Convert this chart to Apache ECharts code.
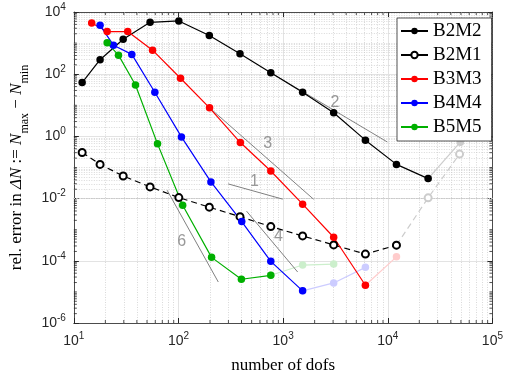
<!DOCTYPE html>
<html lang="en">
<head>
<meta charset="UTF-8">
<title>rel. error vs number of dofs</title>
<script src="https://cdn.jsdelivr.net/npm/echarts@6.0.0/dist/echarts.min.js"></script>
<style>
  html, body { margin: 0; padding: 0; background: #fff; }
  #main { width: 506px; height: 379px; }
</style>
</head>
<body>
<div id="main"></div>
<script type="text/javascript">
// data
var b2m2X = [12, 17.8, 29.6, 53.5, 100.7, 197, 387, 762, 1535, 3040, 6110, 12100, 24300];
var b2m2Y = [54, 292, 1333, 4650, 5150, 1750, 455, 112, 26.4, 5.75, 0.757, 0.126, 0.044];
var b2m2Tail = [[24300, 0.044], [49300, 0.65]];

var b2m1X = [12, 17.8, 29.6, 53.5, 100.7, 197, 387, 762, 1535, 3040, 6110, 12100];
var b2m1Y = [0.303, 0.126, 0.0535, 0.0238, 0.0108, 0.0053, 0.00262, 0.00126, 0.00063, 0.000325, 0.000164, 0.000318];
var b2m1Tail = [[12100, 0.000318], [24300, 0.0106], [48500, 0.27]];

var b3m3X = [14.8, 20.8, 32.7, 56.5, 104.5, 198, 390, 762, 1535, 3040, 6110];
var b3m3Y = [4460, 2350, 2350, 593, 74, 8.3, 0.634, 0.0773, 0.00662, 0.000571, 1.64e-5];
var b3m3Tail = [[6110, 1.64e-5], [12100, 1.34e-4]];

var b4m4X = [17.8, 23.9, 35.8, 59.4, 106.6, 204, 402, 762, 1535];
var b4m4Y = [3730, 857, 433, 26.4, 0.964, 0.0344, 0.00182, 9.6e-5, 1.08e-5];
var b4m4Tail = [[1535, 1.08e-5], [3040, 1.94e-5], [6110, 6.15e-5]];

var b5m5X = [20.8, 26.7, 38.8, 63, 109.6, 207, 399, 762];
var b5m5Y = [1023, 410, 45, 0.575, 0.00615, 1.29e-4, 2.55e-5, 3.42e-5];
var b5m5Tail = [[762, 3.42e-5], [1535, 7.3e-5], [3040, 7.85e-5]];

// reference slopes
var slope1 = [[298, 0.0297], [990, 0.0096]];
var slope2 = [[762, 112], [9900, 0.66]];
var slope3 = [[198, 8.3], [1955, 0.0095]];
var slope4 = [[447, 0.00395], [1377, 4.35e-5]];
var slope6 = [[77.8, 0.0186], [240, 2.08e-5]];
var slopeLabels = [[533, 0.0344, '1'], [3130, 12.6, '2'], [710, 0.575, '3'], [900, 6.0e-4, '4'], [107, 4.2e-4, '6']];

var xMin = 10, xMax = 100000, yMin = 1e-6, yMax = 1e4;

function zip(xs, ys) {
  var out = [];
  for (var i = 0; i < xs.length; i++) out.push([xs[i], ys[i]]);
  return out;
}

// minor grid (2..9 per decade, plus the odd decades on y)
var minorX = [], minorY = [], minorTicks = [];
for (var k = 1; k <= 4; k++) {
  for (var m = 2; m <= 9; m++) {
    minorX.push({ xAxis: m * Math.pow(10, k) });
    minorTicks.push([m * Math.pow(10, k), yMin, 0]);
  }
}
for (var k = -6; k <= 3; k++) {
  for (var m = 1; m <= 9; m++) {
    if (m === 1 && k % 2 === 0) continue;
    minorY.push({ yAxis: m * Math.pow(10, k) });
    minorTicks.push([xMin, m * Math.pow(10, k), 1]);
  }
}

var axisCol = '#262626';
var tickFont = 'Liberation Sans';
var rich = {
  b: { fontSize: 14, fontFamily: tickFont, color: axisCol, lineHeight: 20 },
  s: { fontSize: 10, fontFamily: tickFont, color: axisCol, lineHeight: 10, verticalAlign: 'top' }
};
function powLabel(v) {
  var e = Math.round(Math.log10(v));
  return '{b|10}{s|' + e + '}';
}

var dom = document.getElementById('main');
var myChart = echarts.init(dom);

function mainLine(name, color, data, dashed, empty) {
  return {
    name: name,
    type: 'line',
    data: data,
    symbol: empty ? 'emptyCircle' : 'circle',
    symbolSize: empty ? 7 : 7.5,
    showSymbol: true,
    z: 3,
    lineStyle: { color: color, width: 1.2, type: dashed ? [6, 4] : 'solid' },
    itemStyle: { color: color, borderWidth: empty ? 1.3 : 0 },
    emphasis: { disabled: true },
    animation: false
  };
}
function fadedLine(color, data, dashed, empty) {
  return {
    type: 'line',
    data: data,
    symbol: empty ? 'emptyCircle' : 'circle',
    symbolSize: empty ? 7 : 7.5,
    z: 2,
    lineStyle: { color: color, width: 1.2, type: dashed ? [6, 4] : 'solid' },
    itemStyle: { color: color, borderWidth: empty ? 1.3 : 0 },
    silent: true,
    animation: false
  };
}
function slopeLine(data) {
  return {
    type: 'line',
    data: data,
    symbol: 'none',
    z: 2,
    lineStyle: { color: '#808080', width: 1 },
    silent: true,
    animation: false
  };
}

var option = {
  animation: false,
  grid: { left: 62, right: 13, top: 12, bottom: 54 },
  legend: {
    orient: 'vertical',
    left: 397,
    top: 18,
    z: 20,
    padding: [3, 10, 4, 3],
    itemWidth: 27,
    itemHeight: 8,
    itemGap: 4,
    itemTextGap: 4,
    backgroundColor: '#fff',
    borderColor: axisCol,
    borderWidth: 0.8,
    borderRadius: 0,
    selectedMode: false,
    textStyle: { fontFamily: 'Liberation Serif', fontSize: 19, color: '#000', lineHeight: 20 },
    data: ['B2M2', { name: 'B2M1', lineStyle: { type: 'solid' } }, 'B3M3', 'B4M4', 'B5M5']
  },
  xAxis: [{
    type: 'log',
    logBase: 10,
    min: xMin,
    max: xMax,
    interval: 1,
    name: 'number of dofs',
    nameLocation: 'middle',
    nameGap: 34,
    nameTextStyle: { fontFamily: 'Liberation Serif', fontSize: 17, color: '#000' },
    axisLine: { show: true, lineStyle: { color: axisCol, width: 0.8 } },
    axisTick: { show: true, inside: true, length: 5, lineStyle: { color: axisCol } },
    axisLabel: { formatter: powLabel, rich: rich, margin: 8, interval: 0 },
    splitLine: { show: true, lineStyle: { color: '#e3e3e3', width: 1 } }
  }, {
    type: 'log',
    logBase: 10,
    min: xMin,
    max: xMax,
    interval: 1,
    position: 'top',
    axisLine: { show: true, onZero: false, lineStyle: { color: axisCol, width: 0.8 } },
    axisTick: { show: true, inside: true, length: 5, lineStyle: { color: axisCol } },
    axisLabel: { show: false },
    splitLine: { show: false }
  }],
  yAxis: [{
    type: 'log',
    logBase: 10,
    min: yMin,
    max: yMax,
    interval: 2,
    name: '{n|rel. error in }{i|\u0394N}{n| := }{i|N}{sb|max}{n| \u2212 }{i|N}{sb|min}',
    nameLocation: 'middle',
    nameGap: 38,
    nameTextStyle: {
      rich: {
        n: { fontFamily: 'Liberation Serif', fontSize: 17, color: '#000', lineHeight: 22 },
        i: { fontFamily: 'Liberation Serif', fontSize: 17, fontStyle: 'italic', color: '#000', lineHeight: 22 },
        sb: { fontFamily: 'Liberation Serif', fontSize: 12, color: '#000', lineHeight: 12, verticalAlign: 'bottom', padding: [0, 0, -3, 0] }
      }
    },
    axisLine: { show: true, lineStyle: { color: axisCol, width: 0.8 } },
    axisTick: { show: true, inside: true, length: 5, lineStyle: { color: axisCol } },
    axisLabel: { formatter: powLabel, rich: rich, margin: 8, interval: 0 },
    splitLine: { show: true, lineStyle: { color: '#e3e3e3', width: 1 } }
  }, {
    type: 'log',
    logBase: 10,
    min: yMin,
    max: yMax,
    interval: 2,
    position: 'right',
    axisLine: { show: true, onZero: false, lineStyle: { color: axisCol, width: 0.8 } },
    axisTick: { show: true, inside: true, length: 5, lineStyle: { color: axisCol } },
    axisLabel: { show: false },
    splitLine: { show: false }
  }],
  series: [
    {
      // minor grid lines drawn through the axes
      type: 'line',
      data: [],
      silent: true,
      z: 1,
      markLine: {
        silent: true,
        z: 1,
        symbol: 'none',
        label: { show: false },
        animation: false,
        lineStyle: { color: '#c8c8c8', width: 0.7, type: [1, 1.5] },
        data: minorX.concat(minorY)
      }
    },
    {
      // minor ticks on all four sides of the box
      type: 'custom',
      data: minorTicks,
      silent: true,
      clip: false,
      z: 6,
      renderItem: function (params, api) {
        var st = { stroke: axisCol, lineWidth: 0.8 };
        if (api.value(2) === 0) {
          var b = api.coord([api.value(0), yMin]);
          var t = api.coord([api.value(0), yMax]);
          return { type: 'group', children: [
            { type: 'line', shape: { x1: b[0], y1: b[1], x2: b[0], y2: b[1] - 3 }, style: st },
            { type: 'line', shape: { x1: t[0], y1: t[1], x2: t[0], y2: t[1] + 3 }, style: st }
          ] };
        }
        var l = api.coord([xMin, api.value(1)]);
        var r = api.coord([xMax, api.value(1)]);
        return { type: 'group', children: [
          { type: 'line', shape: { x1: l[0], y1: l[1], x2: l[0] + 3, y2: l[1] }, style: st },
          { type: 'line', shape: { x1: r[0], y1: r[1], x2: r[0] - 3, y2: r[1] }, style: st }
        ] };
      }
    },
    fadedLine('#cccccc', b2m2Tail, false, false),
    fadedLine('#cccccc', b2m1Tail, true, true),
    fadedLine('#ffcccc', b3m3Tail, false, false),
    fadedLine('#ccccff', b4m4Tail, false, false),
    fadedLine('#ccefcc', b5m5Tail, false, false),
    slopeLine(slope1),
    slopeLine(slope2),
    slopeLine(slope3),
    slopeLine(slope4),
    slopeLine(slope6),
    {
      type: 'scatter',
      data: slopeLabels,
      symbolSize: 0,
      silent: true,
      z: 2,
      label: {
        show: true,
        position: 'inside',
        formatter: function (p) { return p.data[2]; },
        fontFamily: tickFont,
        fontSize: 16,
        color: '#808080'
      }
    },
    mainLine('B2M2', '#000000', zip(b2m2X, b2m2Y), false, false),
    mainLine('B2M1', '#000000', zip(b2m1X, b2m1Y), true, true),
    mainLine('B3M3', '#ff0000', zip(b3m3X, b3m3Y), false, false),
    mainLine('B4M4', '#0000ff', zip(b4m4X, b4m4Y), false, false),
    mainLine('B5M5', '#00b000', zip(b5m5X, b5m5Y), false, false)
  ]
};

if (option && typeof option === "object") {
  myChart.setOption(option, true);
}
</script>
</body>
</html>
